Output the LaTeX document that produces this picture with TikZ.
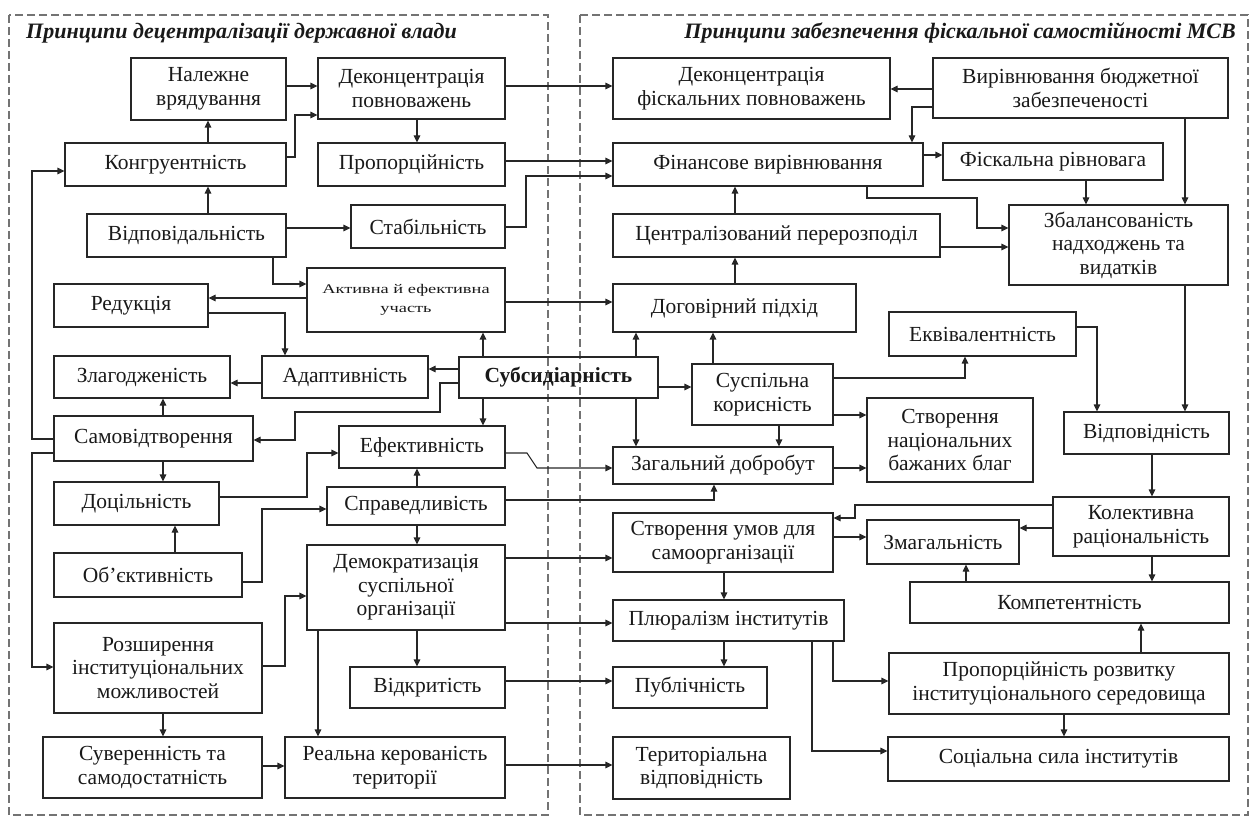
\documentclass[tikz,border=0pt]{standalone}
\usepackage{fontspec}
\usepackage{graphicx}
\setmainfont{Liberation Serif}
\usetikzlibrary{arrows.meta}
\newcommand\fs{\fontsize{21.5}{23.5}\selectfont}
\newcommand\bx[6]{%
  \pgfmathsetmacro\cx{(#2+#4)/2}\pgfmathsetmacro\cy{(#3+#5)/2}%
  \pgfmathsetmacro\bw{#4-#2}\pgfmathsetmacro\bh{#5-#3}%
  \node[box,minimum width=\bw pt,minimum height=\bh pt] (#1) at (\cx,\cy) {#6};}
\tikzset{
  box/.style={draw=black!85, line width=1.1pt, inner sep=0pt, align=center, font=\fs, text=black!90},
  arr/.style={draw=black!85, line width=1.1pt, -{Triangle[length=7pt,width=6.5pt]}},
  frame/.style={draw=black!55, line width=1.2pt, dash pattern=on 8pt off 4pt},
  ttl/.style={font=\fontsize{22}{24}\selectfont\bfseries\itshape, inner sep=0pt, text=black!90}
}
\begin{document}
\begin{tikzpicture}[x=1pt,y=-1pt]
\useasboundingbox (0,0) rectangle (1256,818);
\draw[frame] (9,15) rectangle (548,815);
\draw[frame] (580,15) rectangle (1248,815);
\node[ttl,anchor=west] (t1) at (26,33) {Принципи децентралізації державної влади};
\node[ttl,anchor=east] (t2) at (1236,33) {Принципи забезпечення фіскальної самостійності МСВ};
% left boxes
\bx{nal}{131}{58}{286}{120}{Належне\\врядування}
\bx{dek}{318}{58}{505}{119}{Деконцентрація\\повноважень}
\bx{kon}{65}{143}{286}{186}{Конгруентність}
\bx{prop}{318}{143}{505}{186}{Пропорційність}
\bx{vid}{87}{214}{286}{257}{Відповідальність}
\bx{stab}{351}{205}{505}{248}{Стабільність}
\bx{akt}{307}{268}{505}{332}{\fontsize{18.4}{20}\selectfont\scalebox{1}[0.72]{\begin{tabular}{@{}c@{}}Активна й ефективна\\[6pt]участь\end{tabular}}}
\bx{red}{54}{284}{208}{327}{Редукція}
\bx{zla}{54}{356}{230}{398}{Злагодженість}
\bx{ada}{262}{356}{428}{398}{Адаптивність}
\bx{sub}{459}{357}{658}{398}{\bfseries Субсидіарність}
\bx{sam}{54}{416}{253}{461}{Самовідтворення}
\bx{efe}{339}{426}{505}{468}{Ефективність}
\bx{doc}{54}{482}{219}{525}{Доцільність}
\bx{spr}{327}{487}{505}{525}{Справедливість}
\bx{obj}{54}{553}{242}{597}{Об’єктивність}
\bx{dem}{307}{545}{505}{630}{Демократизація\\суспільної\\організації}
\bx{roz}{54}{623}{262}{713}{Розширення\\інституціональних\\можливостей}
\bx{vidk}{350}{667}{505}{708}{Відкритість}
\bx{suv}{43}{737}{262}{798}{Суверенність та\\самодостатність}
\bx{real}{285}{737}{505}{798}{Реальна керованість\\території}
% right boxes
\bx{dekf}{613}{58}{890}{119}{Деконцентрація\\фіскальних повноважень}
\bx{vyr}{933}{58}{1228}{118}{Вирівнювання бюджетної\\забезпеченості}
\bx{fin}{613}{143}{923}{186}{Фінансове вирівнювання}
\bx{fisk}{943}{143}{1163}{180}{Фіскальна рівновага}
\bx{cent}{613}{214}{940}{257}{Централізований перерозподіл}
\bx{zbal}{1009}{205}{1228}{285}{Збалансованість\\надходжень та\\видатків}
\bx{dog}{613}{284}{856}{332}{Договірний підхід}
\bx{ekv}{889}{312}{1076}{356}{Еквівалентність}
\bx{susp}{692}{364}{833}{425}{Суспільна\\корисність}
\bx{nac}{867}{398}{1033}{482}{Створення\\національних\\бажаних благ}
\bx{zag}{613}{447}{833}{484}{Загальний добробут}
\bx{vidp}{1064}{412}{1229}{454}{Відповідність}
\bx{stv}{613}{513}{833}{572}{Створення умов для\\самоорганізації}
\bx{kol}{1053}{497}{1229}{556}{Колективна\\раціональність}
\bx{zmag}{867}{520}{1019}{564}{Змагальність}
\bx{komp}{910}{582}{1229}{623}{Компетентність}
\bx{plu}{613}{600}{844}{641}{Плюралізм інститутів}
\bx{pub}{613}{667}{767}{708}{Публічність}
\bx{prr}{889}{653}{1229}{714}{Пропорційність розвитку\\інституціонального середовища}
\bx{ter}{613}{737}{790}{799}{Територіальна\\відповідність}
\bx{soc}{888}{737}{1229}{781}{Соціальна сила інститутів}
% connectors
\draw[arr] (nal.east |- 0,86) -- (dek.west |- 0,86);
\draw[arr] (kon.east |- 0,157) -| (295,115) -- (dek.west |- 0,115);
\draw[arr] (kon.north -| 208,0) -- (nal.south -| 208,0);
\draw[arr] (vid.north -| 208,0) -- (kon.south -| 208,0);
\draw[arr] (vid.east |- 0,228) -- (stab.west |- 0,228);
\draw[arr] (vid.south -| 273,0) |- (akt.west |- 0,284);
\draw[arr] (dek.south -| 417,0) -- (prop.north -| 417,0);
\draw[arr] (dek.east |- 0,86) -- (dekf.west |- 0,86);
\draw[arr] (prop.east |- 0,161) -- (fin.west |- 0,161);
\draw[arr] (stab.east |- 0,227) -| (526,176) -- (fin.west |- 0,176);
\draw[arr] (vyr.west |- 0,89) -- (dekf.east |- 0,89);
\draw[arr] (vyr.west |- 0,107) -| (fin.north -| 912,0);
\draw[arr] (fin.east |- 0,155) -- (fisk.west |- 0,155);
\draw[arr] (vyr.south -| 1185,0) -- (zbal.north -| 1185,0);
\draw[arr] (fisk.south -| 1086,0) -- (zbal.north -| 1086,0);
\draw[arr] (fin.south -| 867,0) |- (977,198) |- (zbal.west |- 0,228);
\draw[arr] (cent.east |- 0,247) -- (zbal.west |- 0,247);
\draw[arr] (cent.north -| 735,0) -- (fin.south -| 735,0);
\draw[arr] (dog.north -| 735,0) -- (cent.south -| 735,0);
\draw[arr] (akt.east |- 0,302) -- (dog.west |- 0,302);
\draw[arr] (akt.west |- 0,298) -- (red.east |- 0,298);
\draw[arr] (red.east |- 0,313) -| (ada.north -| 285,0);
\draw[arr] (ada.west |- 0,383) -- (zla.east |- 0,383);
\draw[arr] (sub.west |- 0,369) -- (ada.east |- 0,369);
\draw[arr] (sub.west |- 0,383) -| (440,412) -| (295,440) -- (sam.east |- 0,440);
\draw[arr] (sub.north -| 483,0) -- (akt.south -| 483,0);
\draw[arr] (sub.south -| 483,0) -- (efe.north -| 483,0);
\draw[arr] (sub.north -| 636,0) -- (dog.south -| 636,0);
\draw[arr] (sub.east |- 0,387) -- (susp.west |- 0,387);
\draw[arr] (sub.south -| 636,0) -- (zag.north -| 636,0);
\draw[arr] (susp.north -| 713,0) -- (dog.south -| 713,0);
\draw[arr] (susp.east |- 0,378) -| (ekv.south -| 965,0);
\draw[arr] (susp.east |- 0,415) -- (nac.west |- 0,415);
\draw[arr] (susp.south -| 779,0) -- (zag.north -| 779,0);
\draw[arr] (zag.east |- 0,468) -- (nac.west |- 0,468);
\draw[arr] (efe.east |- 0,453) -- (527,453) -- (537,468) -- (zag.west |- 0,468);
\draw[arr] (spr.east |- 0,500) -| (zag.south -| 714,0);
\draw[arr] (ekv.east |- 0,327) -| (vidp.north -| 1097,0);
\draw[arr] (zbal.south -| 1185,0) -- (vidp.north -| 1185,0);
\draw[arr] (vidp.south -| 1152,0) -- (kol.north -| 1152,0);
\draw[arr] (kol.west |- 0,505) -| (855,518) -- (stv.east |- 0,518);
\draw[arr] (kol.west |- 0,528) -- (zmag.east |- 0,528);
\draw[arr] (stv.east |- 0,537) -- (zmag.west |- 0,537);
\draw[arr] (kol.south -| 1152,0) -- (komp.north -| 1152,0);
\draw[arr] (komp.north -| 966,0) -- (zmag.south -| 966,0);
\draw[arr] (prr.north -| 1141,0) -- (komp.south -| 1141,0);
\draw[arr] (prr.south -| 1064,0) -- (soc.north -| 1064,0);
\draw[arr] (stv.south -| 724,0) -- (plu.north -| 724,0);
\draw[arr] (plu.south -| 724,0) -- (pub.north -| 724,0);
\draw[arr] (plu.south -| 833,0) |- (prr.west |- 0,681);
\draw[arr] (plu.south -| 812,0) |- (soc.west |- 0,751);
\draw[arr] (dem.east |- 0,558) -- (stv.west |- 0,558);
\draw[arr] (dem.east |- 0,623) -- (plu.west |- 0,623);
\draw[arr] (vidk.east |- 0,681) -- (pub.west |- 0,681);
\draw[arr] (real.east |- 0,765) -- (ter.west |- 0,765);
\draw[arr] (dem.south -| 417,0) -- (vidk.north -| 417,0);
\draw[arr] (dem.south -| 318,0) -- (real.north -| 318,0);
\draw[arr] (suv.east |- 0,766) -- (real.west |- 0,766);
\draw[arr] (roz.south -| 163,0) -- (suv.north -| 163,0);
\draw[arr] (roz.east |- 0,666) -| (285,596) -- (dem.west |- 0,596);
\draw[arr] (obj.east |- 0,582) -| (262,509) -- (spr.west |- 0,509);
\draw[arr] (doc.east |- 0,497) -| (307,453) -- (efe.west |- 0,453);
\draw[arr] (obj.north -| 175,0) -- (doc.south -| 175,0);
\draw[arr] (sam.south -| 163,0) -- (doc.north -| 163,0);
\draw[arr] (sam.north -| 163,0) -- (zla.south -| 163,0);
\draw[arr] (sam.west |- 0,439) -| (32,171) -- (kon.west |- 0,171);
\draw[arr] (sam.west |- 0,453) -| (32,667) -- (roz.west |- 0,667);
\draw[arr] (spr.north -| 417,0) -- (efe.south -| 417,0);
\draw[arr] (spr.south -| 417,0) -- (dem.north -| 417,0);
\end{tikzpicture}
\end{document}
